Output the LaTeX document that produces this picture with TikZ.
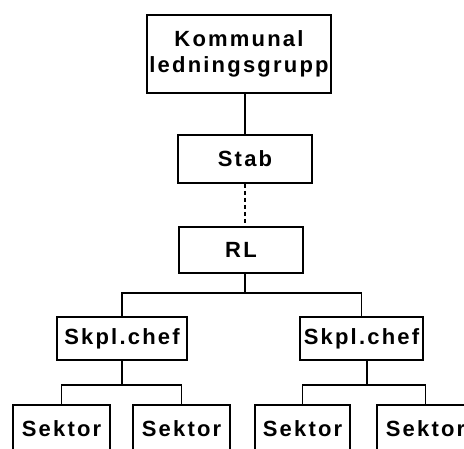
\documentclass[tikz,border=0pt]{standalone}
\usepackage{fontspec}
\setmainfont[LetterSpace=10]{Liberation Sans}
\usetikzlibrary{calc}

\begin{document}
\begin{tikzpicture}[x=1pt,y=-1pt,line width=1.8pt,
    ruta/.style={draw,rectangle,inner sep=0pt,align=center,
      font=\fontsize{22}{26}\selectfont\bfseries}]
        % Bildens ram och klippning
        \useasboundingbox (0,0) rectangle (464,449);
        \clip (0,0) rectangle (464,449);
        % Rutorna i de tre översta nivåerna
        \node[ruta,minimum width=184pt,minimum height=78pt] (komm) at (239,54) {Kommunal\\ledningsgrupp};
        \node[ruta,minimum width=134pt,minimum height=48pt] (stab) at (245,159) {Stab};
        \node[ruta,minimum width=124pt,minimum height=46pt] (rl) at (241,250) {RL};
        % Skplchefernas rutor
        \node[ruta,minimum width=130pt,minimum height=43pt] (skplV) at (122,338.5) {Skpl.chef};
        \node[ruta,minimum width=123pt,minimum height=43pt] (skplH) at (361.5,338.5) {Skpl.chef};
        % Sektorernas rutor, nedre kanten utanför bilden
        \node[ruta,minimum width=97pt,minimum height=48pt] (sek1) at (61.5,429) {Sektor};
        \node[ruta,minimum width=97pt,minimum height=48pt] (sek2) at (181.5,429) {Sektor};
        \node[ruta,minimum width=95pt,minimum height=48pt] (sek3) at (302.5,429) {Sektor};
        \node[ruta,minimum width=97pt,minimum height=48pt] (sek4) at (425.5,429) {Sektor};
        % Förgreningspunkter
        \coordinate (gren) at (245,293);
        \coordinate (gren1) at (122,385);
        \coordinate (gren2) at (367,385);
        % Linjerna mellan nivåerna
        \draw (stab.north) -- (stab.north |- komm.south);
        \draw[dash pattern=on 4pt off 3pt] (stab.south) -- (stab.south |- rl.north);
        \draw (rl.south -| gren) -- (gren);
        \draw (skplV.north) |- (gren) -| (skplH.north);
        % Linjerna ner till sektorerna
        \draw (skplV.south) -- (gren1);
        \draw (sek1.north) |- (gren1) -| (sek2.north);
        \draw (skplH.south -| gren2) -- (gren2);
        \draw (sek3.north) |- (gren2) -| (sek4.north);
    \end{tikzpicture}
\end{document}
